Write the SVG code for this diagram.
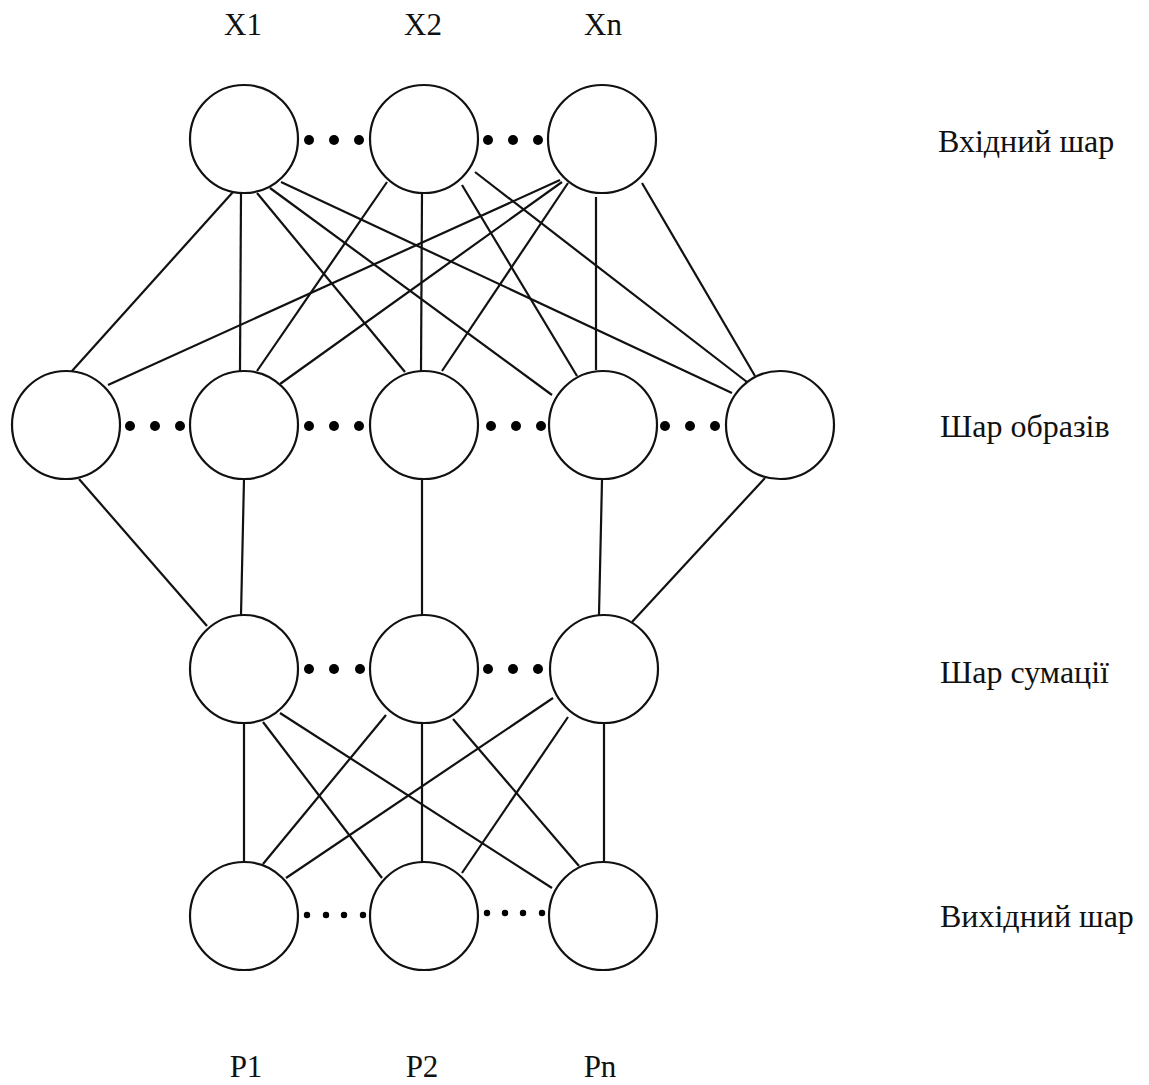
<svg xmlns="http://www.w3.org/2000/svg" width="1149" height="1085" viewBox="0 0 1149 1085">
<style>
.n{fill:#fff;stroke:#111;stroke-width:2.2}
.e line{stroke:#111;stroke-width:2.2}
.d{fill:#000}
.t{font-family:"Liberation Serif","Times New Roman",serif;font-size:32px;fill:#111}
.c{text-anchor:middle;font-size:31px}
</style>
<rect width="1149" height="1085" fill="#fff"/>
<g id="connectors" class="e">
<line x1="233" y1="192" x2="72" y2="371"/>
<line x1="241" y1="194" x2="240" y2="371"/>
<line x1="257" y1="193" x2="405" y2="372"/>
<line x1="270" y1="188" x2="552" y2="395"/>
<line x1="281" y1="182" x2="732" y2="393"/>
<line x1="387" y1="182" x2="257" y2="371"/>
<line x1="422" y1="193" x2="421" y2="371"/>
<line x1="462" y1="185" x2="577" y2="376"/>
<line x1="475" y1="172" x2="747" y2="382"/>
<line x1="560" y1="180" x2="108" y2="385"/>
<line x1="562" y1="182" x2="280" y2="384"/>
<line x1="568" y1="183" x2="442" y2="371"/>
<line x1="596" y1="197" x2="596" y2="370"/>
<line x1="642" y1="183" x2="755" y2="376"/>
<line x1="79" y1="479" x2="207" y2="626"/>
<line x1="244" y1="479" x2="241" y2="615"/>
<line x1="422" y1="479" x2="422" y2="615"/>
<line x1="602" y1="480" x2="599" y2="615"/>
<line x1="765" y1="478" x2="632" y2="622"/>
<line x1="244" y1="723" x2="244" y2="862"/>
<line x1="263" y1="722" x2="382" y2="878"/>
<line x1="280" y1="713" x2="552" y2="888"/>
<line x1="386" y1="715" x2="263" y2="864"/>
<line x1="422" y1="723" x2="422" y2="862"/>
<line x1="453" y1="719" x2="579" y2="866"/>
<line x1="553" y1="698" x2="286" y2="878"/>
<line x1="568" y1="717" x2="462" y2="873"/>
<line x1="604" y1="722" x2="604" y2="861"/>
</g>
<g id="input-x1"><circle class="n" cx="244" cy="139" r="54"/></g>
<g id="input-x2"><circle class="n" cx="424" cy="139" r="54"/></g>
<g id="input-xn"><circle class="n" cx="602" cy="139" r="54"/></g>
<g id="pattern-1"><circle class="n" cx="66" cy="425" r="54"/></g>
<g id="pattern-2"><circle class="n" cx="244" cy="425" r="54"/></g>
<g id="pattern-3"><circle class="n" cx="424" cy="425" r="54"/></g>
<g id="pattern-4"><circle class="n" cx="603" cy="425" r="54"/></g>
<g id="pattern-5"><circle class="n" cx="780" cy="425" r="54"/></g>
<g id="sum-1"><circle class="n" cx="244" cy="669" r="54"/></g>
<g id="sum-2"><circle class="n" cx="424" cy="669" r="54"/></g>
<g id="sum-3"><circle class="n" cx="604" cy="669" r="54"/></g>
<g id="out-1"><circle class="n" cx="244" cy="916" r="54"/></g>
<g id="out-2"><circle class="n" cx="424" cy="916" r="54"/></g>
<g id="out-3"><circle class="n" cx="603" cy="916" r="54"/></g>
<g id="dots" class="d">
<circle cx="309" cy="140" r="5"/><circle cx="334" cy="140" r="5"/><circle cx="359" cy="140" r="5"/>
<circle cx="488" cy="140" r="5"/><circle cx="513" cy="140" r="5"/><circle cx="538" cy="140" r="5"/>
<circle cx="130" cy="426" r="5"/><circle cx="155" cy="426" r="5"/><circle cx="180" cy="426" r="5"/>
<circle cx="309" cy="426" r="5"/><circle cx="334" cy="426" r="5"/><circle cx="359" cy="426" r="5"/>
<circle cx="491" cy="426" r="5"/><circle cx="516" cy="426" r="5"/><circle cx="541" cy="426" r="5"/>
<circle cx="665" cy="426" r="5"/><circle cx="690" cy="426" r="5"/><circle cx="715" cy="426" r="5"/>
<circle cx="309" cy="669" r="5"/><circle cx="334" cy="669" r="5"/><circle cx="360" cy="669" r="5"/>
<circle cx="488" cy="669" r="5"/><circle cx="513" cy="669" r="5"/><circle cx="538" cy="669" r="5"/>
<circle cx="307" cy="915" r="3.2"/><circle cx="326" cy="915" r="3.2"/><circle cx="344" cy="915" r="3.2"/><circle cx="363" cy="915" r="3.2"/>
<circle cx="487" cy="913" r="3.2"/><circle cx="505" cy="913" r="3.2"/><circle cx="523" cy="913" r="3.2"/><circle cx="542" cy="913" r="3.2"/>
</g>
<g id="labels" class="t">
<text class="c" x="243" y="35">X1</text>
<text class="c" x="423" y="35">X2</text>
<text class="c" x="603" y="35">Xn</text>
<text class="c" x="246" y="1077">P1</text>
<text class="c" x="422" y="1077">P2</text>
<text class="c" x="600" y="1077">Pn</text>
<text x="938" y="152">Вхідний шар</text>
<text x="940" y="437">Шар образів</text>
<text x="940" y="683">Шар сумації</text>
<text x="940" y="927">Вихідний шар</text>
</g>
</svg>
